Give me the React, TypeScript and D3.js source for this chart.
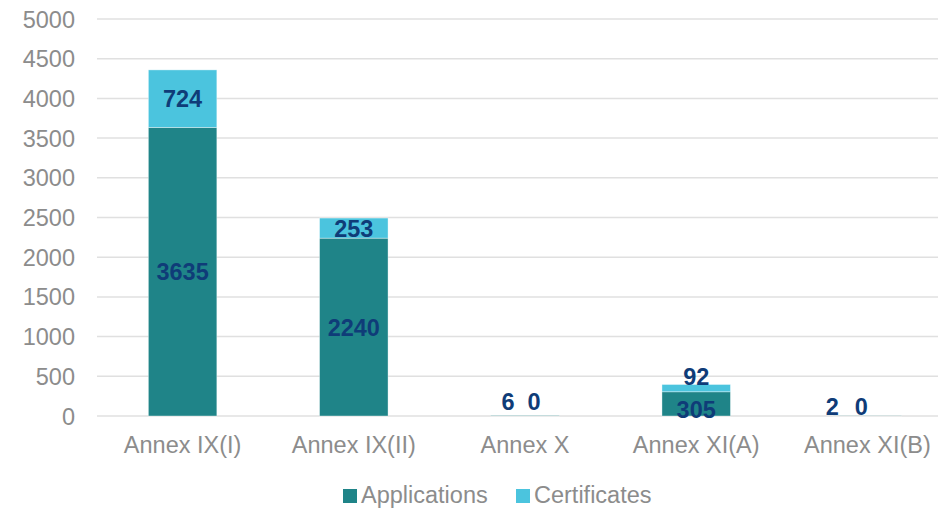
import * as d3 from "d3";

const categories = ["Annex IX(I)", "Annex IX(II)", "Annex X", "Annex XI(A)", "Annex XI(B)"];
const applications = [3635, 2240, 6, 305, 2];
const certificates = [724, 253, 0, 92, 0];
const yTicks = [0, 500, 1000, 1500, 2000, 2500, 3000, 3500, 4000, 4500, 5000];

const seriesNames = ["Applications", "Certificates"];
const seriesColors = ["#1F8488", "#4BC4DE"];

const WIDTH = 938;
const HEIGHT = 509;
const FONT = "'Liberation Sans', Arial, sans-serif";
const FS = 23.5;
const LABEL_COLOR = "#0F3C78";
const AXIS_COLOR = "#8C8C8C";

// manual tweaks for labels that would collide on tiny bars
const labelNudge: Record<string, { app: [number, number]; cert: [number, number] }> = {
  "Annex X": { app: [-17, -14], cert: [9, -14] },
  "Annex XI(A)": { app: [0, 6], cert: [0, -12] },
  "Annex XI(B)": { app: [-35, -9], cert: [-6, -9] },
};

export default function App() {
  const x = d3
    .scaleBand()
    .domain(categories)
    .range([97, 953])
    .paddingInner(0.6)
    .paddingOuter(0.3);

  const y = d3.scaleLinear().domain([0, 5000]).range([416, 19]);

  const stacked = categories.map((c, i) => ({
    cat: c,
    app: applications[i],
    cert: certificates[i],
  }));

  return (
    <div style={{ position: "absolute", left: 0, top: 0 }}>
      <svg width={WIDTH} height={HEIGHT} style={{ display: "block", fontFamily: FONT }}>
        <rect width={WIDTH} height={HEIGHT} fill="#fff" />

        {/* gridlines */}
        {yTicks.map((t) => (
          <line
            key={t}
            x1={97}
            x2={WIDTH}
            y1={y(t)}
            y2={y(t)}
            stroke="#E0E0E0"
            strokeWidth={1.5}
          />
        ))}

        {/* y labels */}
        {yTicks.map((t) => (
          <text
            key={"l" + t}
            x={75}
            y={y(t) + 8.5}
            textAnchor="end"
            fontSize={FS}
            fill={AXIS_COLOR}
          >
            {t}
          </text>
        ))}

        {/* bars */}
        {stacked.map((d) => {
          const bx = x(d.cat)!;
          const bw = x.bandwidth();
          return (
            <g key={d.cat}>
              <rect
                x={bx}
                y={y(d.app)}
                width={bw}
                height={y(0) - y(d.app)}
                fill={seriesColors[0]}
                stroke="#ffffff"
                strokeOpacity={0.5}
                strokeWidth={0.75}
              />
              {d.cert > 0 && (
                <rect
                  x={bx}
                  y={y(d.app + d.cert)}
                  width={bw}
                  height={y(d.app) - y(d.app + d.cert)}
                  fill={seriesColors[1]}
                  stroke="#ffffff"
                  strokeOpacity={0.5}
                  strokeWidth={0.75}
                />
              )}
            </g>
          );
        })}

        {/* data labels */}
        {stacked.map((d) => {
          const cx = x(d.cat)! + x.bandwidth() / 2;
          const nudge = labelNudge[d.cat];
          const appMid = (y(0) + y(d.app)) / 2;
          const certMid = (y(d.app) + y(d.app + d.cert)) / 2;
          const appPos = nudge ? [cx + nudge.app[0], appMid + nudge.app[1]] : [cx, appMid];
          const certPos = nudge ? [cx + nudge.cert[0], certMid + nudge.cert[1]] : [cx, certMid];
          return (
            <g key={"dl" + d.cat} fontSize={FS} fontWeight="bold" fill={LABEL_COLOR}>
              <text x={appPos[0]} y={appPos[1] + 8.5} textAnchor="middle">
                {d.app}
              </text>
              <text x={certPos[0]} y={certPos[1] + 8.5} textAnchor="middle">
                {d.cert}
              </text>
            </g>
          );
        })}

        {/* category labels */}
        {categories.map((c) => (
          <text
            key={"c" + c}
            x={x(c)! + x.bandwidth() / 2}
            y={453}
            textAnchor="middle"
            fontSize={FS}
            fill={AXIS_COLOR}
          >
            {c}
          </text>
        ))}

        {/* legend */}
        <g fontSize={FS} fill={AXIS_COLOR}>
          <rect x={343} y={489} width={14} height={14} fill={seriesColors[0]} />
          <text x={361} y={503}>
            {seriesNames[0]}
          </text>
          <rect x={516} y={489} width={14} height={14} fill={seriesColors[1]} />
          <text x={534} y={503}>
            {seriesNames[1]}
          </text>
        </g>
      </svg>
    </div>
  );
}
